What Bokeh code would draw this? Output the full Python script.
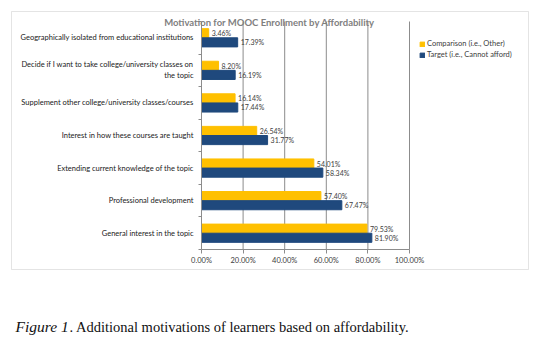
from bokeh.plotting import figure
from bokeh.models import (ColumnDataSource, Range1d, LinearAxis,
                          FixedTicker, NumeralTickFormatter, Legend, LegendItem, Label, BoxAnnotation)
from bokeh.embed import file_html
from bokeh.resources import INLINE
from bokeh.core.properties import value

# ---- data (top to bottom as in the chart) ----
categories = [
    "Geographically isolated from educational institutions",
    "Decide if I want to take college/university classes on\nthe topic",
    "Supplement other college/university classes/courses",
    "Interest in how these courses are taught",
    "Extending current knowledge of the topic",
    "Professional development",
    "General interest in the topic",
]
comparison = [3.46, 8.20, 16.14, 26.54, 54.01, 57.40, 79.53]   # Comparison (i.e., Other)
target = [17.39, 16.19, 17.44, 31.77, 58.34, 67.47, 81.90]      # Target (i.e., Cannot afford)
x_ticks = [0, 0.2, 0.4, 0.6, 0.8, 1.0]
series_names = ["Comparison (i.e., Other)", "Target (i.e., Cannot afford)"]
title_text = "Motivation for MOOC Enrollment by Affordability"
caption_fig = "Figure 1"
caption_rest = ". Additional motivations of learners based on affordability."

YELLOW = "#FFC000"
BLUE = "#1F497D"
GRID = "#8C8C8C"
TXT = "#404040"
FONT = "Lato"

W, H = 537, 344
# plot-area placement on the canvas (pixels): value 0 -> 201, value 1 -> 409; row band 21..249
PX0, PX1, PY_TOP, PY_BOT = 201, 409, 21, 249
n = len(categories)
xu = PX1 - PX0
yu = (PY_BOT - PY_TOP) / n

centers = [n - 1 - i + 0.5 for i in range(n)]
src = ColumnDataSource(dict(
    yc=[c + 0.14 for c in centers],
    yt=[c - 0.14 for c in centers],
    comp=[v / 100 for v in comparison],
    targ=[v / 100 for v in target],
    comp_lbl=[f"{v:.2f}%" for v in comparison],
    targ_lbl=[f"{v:.2f}%" for v in target],
))

p = figure(width=W, height=H, output_backend="svg", toolbar_location=None,
           x_range=Range1d(-PX0 / xu, 1 + (W - PX1) / xu),
           y_range=Range1d(-(H - PY_BOT) / yu, n + PY_TOP / yu),
           x_axis_location=None, y_axis_location=None,
           min_border=0)
p.outline_line_color = None
p.background_fill_color = "white"
p.border_fill_color = "white"
p.grid.visible = False

# chart border box (screen units, bottom-up)
p.add_layout(BoxAnnotation(left=11, right=528, top=H - 11, bottom=H - 269,
                           left_units="screen", right_units="screen",
                           top_units="screen", bottom_units="screen",
                           fill_alpha=0, line_color="#A6A6A6", line_width=1, level="underlay"))

# vertical gridlines at the x ticks (excluding 0, where the axis is)
p.segment(x0=x_ticks[1:], y0=[0] * (len(x_ticks) - 1), x1=x_ticks[1:], y1=[n] * (len(x_ticks) - 1),
          line_color=GRID, line_width=1)

r1 = p.hbar(y="yc", right="comp", left=0, height=0.28, source=src, fill_color=YELLOW, line_color=YELLOW)
r2 = p.hbar(y="yt", right="targ", left=0, height=0.28, source=src, fill_color=BLUE, line_color=BLUE)

for col, ycol, lbl in (("comp", "yc", "comp_lbl"), ("targ", "yt", "targ_lbl")):
    p.text(x=col, y=ycol, text=lbl, source=src,
           x_offset=3, text_baseline="middle", text_align="left",
           text_font=value(FONT), text_font_size="7px", text_color=TXT)

# x axis at y = 0
xa = LinearAxis(ticker=FixedTicker(ticks=x_ticks), formatter=NumeralTickFormatter(format="0.00%"),
                fixed_location=0, bounds=(0, 1))
xa.axis_line_color = GRID
xa.major_tick_line_color = GRID
xa.major_tick_out = 4
xa.major_tick_in = 0
xa.minor_tick_line_color = None
xa.major_label_text_font = FONT
xa.major_label_text_font_size = "7.5px"
xa.major_label_text_color = TXT
xa.major_label_standoff = 2
p.add_layout(xa, "below")

# y axis line with ticks at the category boundaries (no labels)
bticks = list(range(n + 1))
ta = LinearAxis(ticker=FixedTicker(ticks=bticks), fixed_location=0, bounds=(0, n),
                major_label_overrides={t: "" for t in bticks})
ta.axis_line_color = GRID
ta.major_tick_line_color = GRID
ta.major_tick_out = 3
ta.major_tick_in = 0
ta.minor_tick_line_color = None
ta.major_label_text_font_size = "7.5px"
ta.major_label_standoff = 0
p.add_layout(ta, "left")

# category labels
ca = LinearAxis(ticker=FixedTicker(ticks=centers), fixed_location=0,
                major_label_overrides={c: lab for c, lab in zip(centers, categories)})
ca.axis_line_color = None
ca.major_tick_line_color = None
ca.minor_tick_line_color = None
ca.major_tick_out = 0
ca.major_tick_in = 0
ca.major_label_text_font = FONT
ca.major_label_text_font_size = "7.5px"
ca.major_label_text_color = "#1A1A1A"
ca.major_label_standoff = 8
p.add_layout(ca, "left")

# legend (location = bottom-left corner, frame coordinates)
leg = Legend(items=[LegendItem(label=series_names[0], renderers=[r1]),
                    LegendItem(label=series_names[1], renderers=[r2])],
             location=(419, H - 59), orientation="vertical",
             glyph_width=6, glyph_height=6, label_standoff=2, spacing=2, padding=0, margin=0,
             label_text_font=FONT, label_text_font_size="7.5px", label_text_color=TXT,
             label_height=8, border_line_color=None, background_fill_alpha=0)
p.add_layout(leg, "center")

# title
p.add_layout(Label(x=269, y=H - 22, x_units="screen", y_units="screen", text=title_text,
                   text_align="center", text_baseline="middle", text_font=FONT,
                   text_font_style="bold", text_font_size="9.5px", text_color="#7F7F7F"))

# caption
p.add_layout(Label(x=15, y=H - 326, x_units="screen", y_units="screen", text=caption_fig,
                   text_baseline="middle", text_font="Liberation Serif", text_font_style="italic",
                   text_font_size="15.5px", text_color="#111111"))
p.add_layout(Label(x=69, y=H - 326, x_units="screen", y_units="screen", text=caption_rest,
                   text_baseline="middle", text_font="Liberation Serif",
                   text_font_size="14.5px", text_color="#111111"))

open("out.html", "w").write(file_html(p, INLINE))
